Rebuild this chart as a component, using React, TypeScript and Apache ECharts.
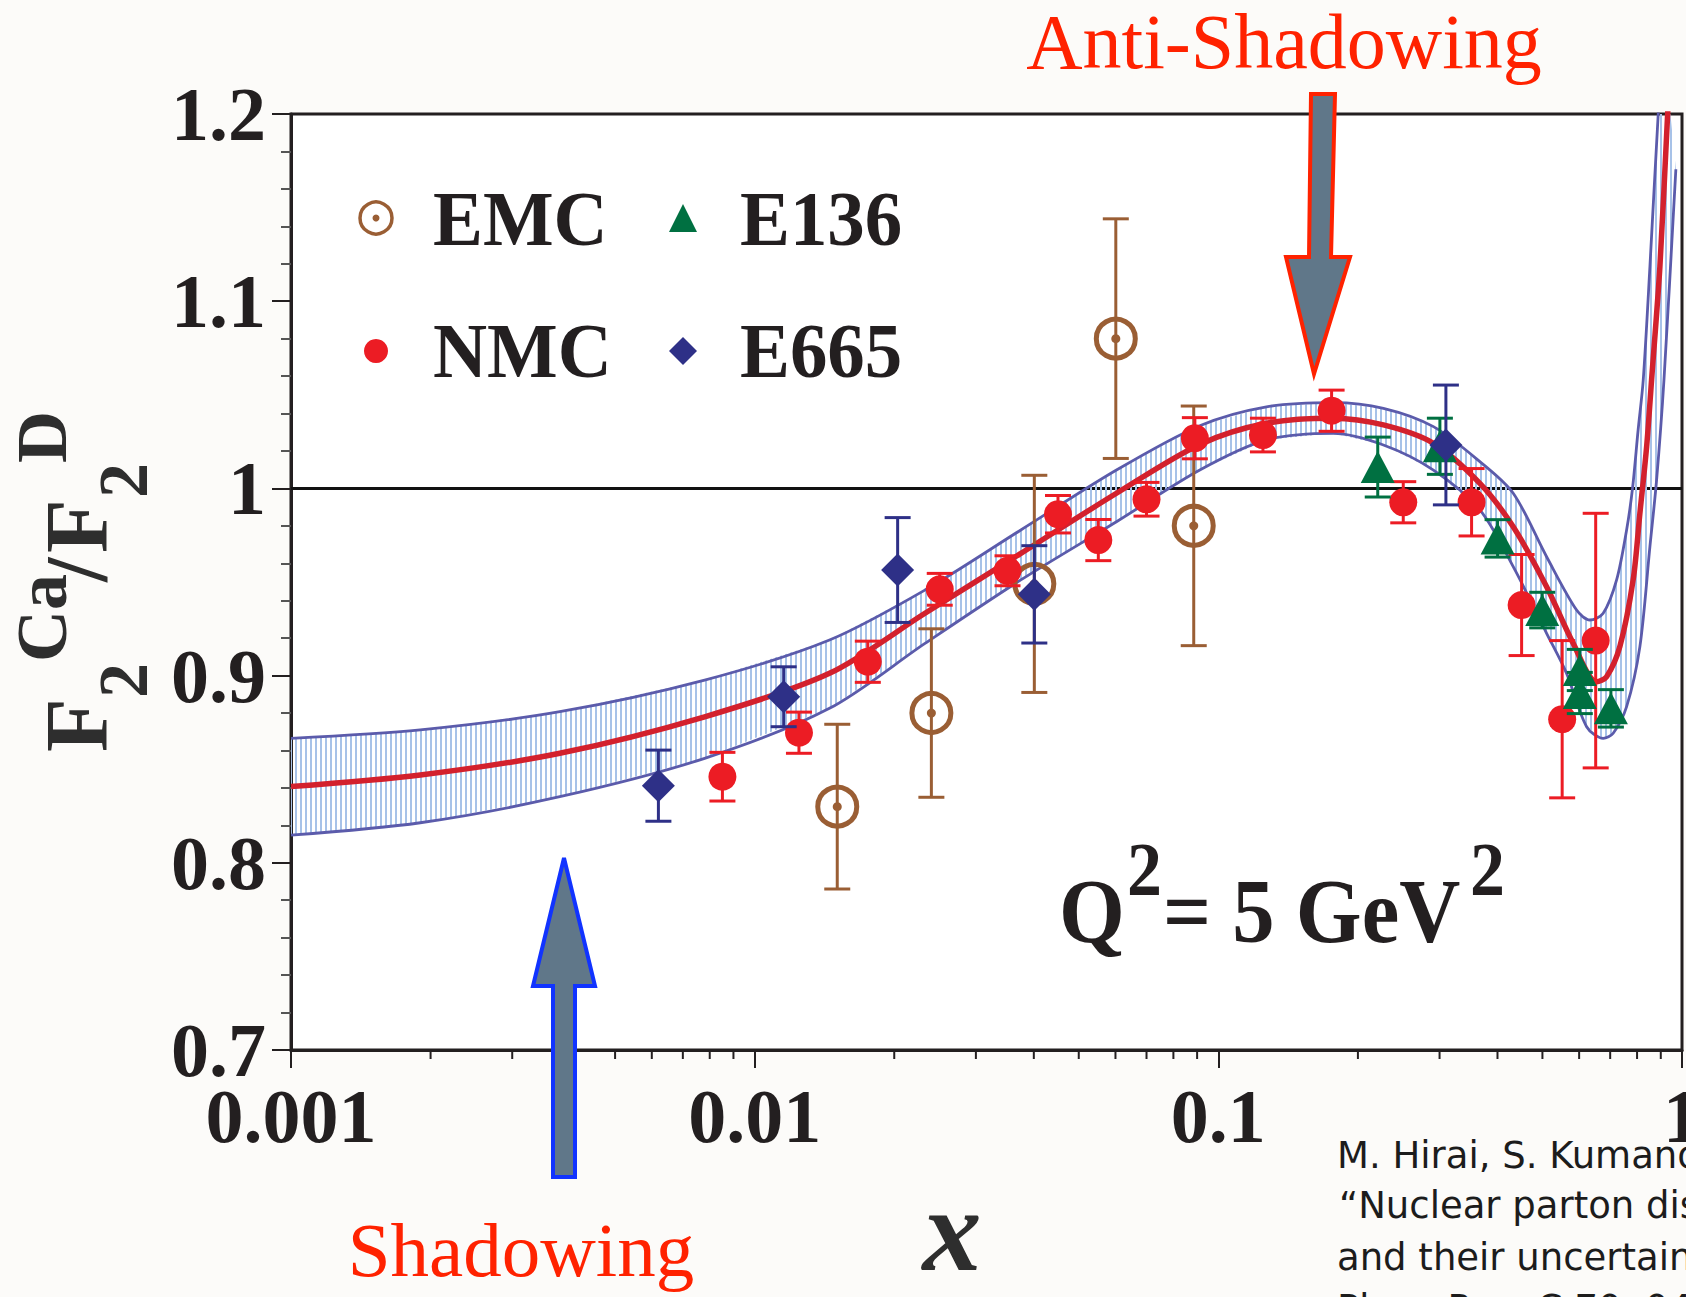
import React, { useEffect, useRef } from "react";
import * as echarts from "echarts";

const SERIF = '"Liberation Serif", "Times New Roman", serif';
const BG = "#fcfbf9";
const INK = "#231f20";

// ---------- data ----------
const xTickLabels = ["0.001", "0.01", "0.1", "1"];
const yTickLabels = ["0.7", "0.8", "0.9", "1", "1.1", "1.2"];
const xMinorTicks = [
  0.002, 0.003, 0.004, 0.005, 0.006, 0.007, 0.008, 0.009,
  0.02, 0.03, 0.04, 0.05, 0.06, 0.07, 0.08, 0.09,
  0.2, 0.3, 0.4, 0.5, 0.6, 0.7, 0.8, 0.9,
];

const emcX = [0.01507, 0.02405, 0.0401, 0.0601, 0.0885];
const emcY = [0.83, 0.88, 0.949, 1.08, 0.98];
const emcErr = [0.044, 0.045, 0.058, 0.064, 0.064];

const nmcX = [0.00852, 0.01246, 0.01754, 0.02507, 0.0351, 0.0451, 0.0551, 0.07, 0.089, 0.1248, 0.1755, 0.2505, 0.3517, 0.4509, 0.5515, 0.6514];
const nmcY = [0.846, 0.8695, 0.9074, 0.9461, 0.956, 0.9862, 0.9724, 0.9942, 1.0268, 1.0285, 1.0415, 0.9926, 0.9926, 0.9377, 0.8767, 0.9187];
const nmcErr = [0.013, 0.011, 0.011, 0.0085, 0.008, 0.01, 0.011, 0.009, 0.011, 0.009, 0.011, 0.011, 0.018, 0.027, 0.042, 0.068];

const e136X = [0.2207, 0.3005, 0.4002, 0.4995, 0.602, 0.602, 0.7025];
const e136Y = [1.0114, 1.0225, 0.9733, 0.935, 0.903, 0.8907, 0.8825];
const e136Err = [0.016, 0.015, 0.01, 0.0095, 0.011, 0.011, 0.01];

const e665X = [0.0062, 0.01155, 0.02034, 0.0401, 0.3096];
const e665Y = [0.8412, 0.8887, 0.9564, 0.9434, 1.0232];
const e665Err = [0.019, 0.016, 0.028, 0.026, 0.032];

const centerX = [0.001, 0.0019, 0.0038, 0.0078, 0.0145, 0.0233, 0.0375, 0.0603, 0.0912, 0.127, 0.177, 0.227, 0.291, 0.3665, 0.4325, 0.5105, 0.5826, 0.6543, 0.6877, 0.7345, 0.7845, 0.8113, 0.8389, 0.8598, 0.896, 0.9312, 0.95];
const centerY = [0.8407, 0.8469, 0.8585, 0.878, 0.9012, 0.9333, 0.9653, 0.9974, 1.0235, 1.0348, 1.0375, 1.0339, 1.0241, 1.0027, 0.9795, 0.9475, 0.9172, 0.8967, 0.8994, 0.9155, 0.9511, 0.9867, 1.0223, 1.0579, 1.1184, 1.2, 1.24];

const upperX = [0.001, 0.0019, 0.0038, 0.0078, 0.0145, 0.0233, 0.0375, 0.0603, 0.0912, 0.127, 0.177, 0.227, 0.291, 0.3665, 0.4325, 0.5105, 0.5925, 0.6329, 0.6762, 0.7227, 0.7595, 0.7821, 0.8042, 0.8249, 0.8527, 0.8886, 0.91];
const upperY = [0.8665, 0.871, 0.8807, 0.8976, 0.919, 0.9457, 0.9778, 1.0098, 1.0335, 1.0436, 1.0458, 1.0428, 1.033, 1.0143, 0.9974, 0.9635, 0.935, 0.9297, 0.9333, 0.9511, 0.9778, 1.0, 1.0312, 1.0579, 1.1184, 1.2, 1.24];

const lowerX = [0.001, 0.0019, 0.0038, 0.0078, 0.0145, 0.0233, 0.0375, 0.0603, 0.0912, 0.127, 0.177, 0.227, 0.291, 0.3665, 0.4325, 0.5105, 0.5637, 0.6227, 0.6762, 0.7106, 0.7595, 0.8113, 0.8527, 0.8815, 0.9143, 0.97];
const lowerY = [0.8148, 0.8214, 0.8353, 0.8558, 0.8825, 0.9172, 0.9511, 0.9822, 1.0098, 1.0259, 1.0294, 1.0232, 1.0098, 0.9885, 0.9582, 0.9226, 0.9012, 0.8727, 0.8665, 0.8692, 0.8834, 0.9155, 0.9689, 1.0045, 1.0579, 1.1705];

// ---------- colours ----------
const C_EMC = "#9a5e34";
const C_NMC = "#ec1c24";
const C_E136 = "#007041";
const C_E665 = "#2e3087";
const C_BAND = "#5b5bab";
const C_CENTER = "#d3212d";

function makeHatch(): string {
  const c = document.createElement("canvas");
  c.width = 5;
  c.height = 10;
  const ctx = c.getContext("2d");
  if (ctx) {
    ctx.fillStyle = "#a7c2e8";
    ctx.fillRect(0, 0, 2, 10);
  }
  return c.toDataURL();
}

const zip = (xs: number[], ys: number[]) => xs.map((x, i) => [x, ys[i]]);
const zip3 = (xs: number[], ys: number[], es: number[]) => xs.map((x, i) => [x, ys[i], es[i]]);

function errSeries(name: string, xs: number[], ys: number[], es: number[], color: string, z: number) {
  return {
    name: name + "-err",
    type: "custom",
    z,
    silent: true,
    encode: { x: 0, y: 1 },
    data: zip3(xs, ys, es),
    renderItem: (params: any, api: any) => {
      const x = api.value(0);
      const y = api.value(1);
      const e = api.value(2);
      const top = api.coord([x, y + e]);
      const bot = api.coord([x, y - e]);
      const hw = 13;
      const st = { stroke: color, lineWidth: 3 };
      return {
        type: "group",
        children: [
          { type: "line", shape: { x1: top[0], y1: top[1], x2: bot[0], y2: bot[1] }, style: st },
          { type: "line", shape: { x1: top[0] - hw, y1: top[1], x2: top[0] + hw, y2: top[1] }, style: st },
          { type: "line", shape: { x1: bot[0] - hw, y1: bot[1], x2: bot[0] + hw, y2: bot[1] }, style: st },
        ],
      };
    },
  };
}

function txt(text: string, x: number, y: number, font: string, fill: string, align = "left", extra: any = {}) {
  return {
    type: "text",
    x,
    y,
    z: 100,
    silent: true,
    ...extra,
    style: { text, font, fill, align, verticalAlign: "middle", textAlign: align, textVerticalAlign: "middle" },
  };
}

function buildOption(): any {
  const hatch = makeHatch();
  const titleFill = "#2e2e2e";
  const mainF = `bold 88px ${SERIF}`;
  const subF = `bold 70px ${SERIF}`;
  const supF = `bold 72px ${SERIF}`;
  const citeF = `37px "DejaVu Sans", sans-serif`;

  const graphic: any[] = [
    // legend
    { type: "circle", z: 100, shape: { cx: 376, cy: 218, r: 16 }, style: { fill: "none", stroke: C_EMC, lineWidth: 3.5 } },
    { type: "circle", z: 100, shape: { cx: 376, cy: 218, r: 3.5 }, style: { fill: C_EMC } },
    txt("EMC", 433, 219, `bold 78px ${SERIF}`, INK, "left", { scaleX: 0.96 }),
    { type: "polygon", z: 100, shape: { points: [[683, 204], [697, 232], [669, 232]] }, style: { fill: C_E136 } },
    txt("E136", 740, 219, `bold 78px ${SERIF}`, INK, "left", { scaleX: 0.96 }),
    { type: "circle", z: 100, shape: { cx: 376, cy: 351, r: 12 }, style: { fill: C_NMC } },
    txt("NMC", 433, 351, `bold 78px ${SERIF}`, INK, "left", { scaleX: 0.96 }),
    { type: "polygon", z: 100, shape: { points: [[683, 337], [697, 351], [683, 365], [669, 351]] }, style: { fill: C_E665 } },
    txt("E665", 740, 351, `bold 78px ${SERIF}`, INK, "left", { scaleX: 0.96 }),

    // Q^2 = 5 GeV^2
    txt("Q", 1059, 911, `bold 92px ${SERIF}`, INK, "left", { scaleX: 0.92 }),
    txt("2", 1127, 870, `bold 76px ${SERIF}`, INK, "left", { scaleX: 0.92 }),
    txt("= 5 GeV", 1163, 911, `bold 92px ${SERIF}`, INK, "left", { scaleX: 0.92 }),
    txt("2", 1470, 870, `bold 76px ${SERIF}`, INK, "left", { scaleX: 0.92 }),

    // annotations
    txt("Anti-Shadowing", 1284, 41, `78px ${SERIF}`, "#ff2200", "center"),
    txt("Shadowing", 521, 1250, `77px ${SERIF}`, "#ff2200", "center"),
    {
      type: "polygon",
      z: 101,
      shape: { points: [[1311, 94], [1335, 94], [1331, 257], [1350, 257], [1314, 374], [1286, 257], [1309, 257]] },
      style: { fill: "#607789", stroke: "#ff2200", lineWidth: 4, lineJoin: "miter" },
    },
    {
      type: "polygon",
      z: 101,
      shape: { points: [[564, 858], [595, 986], [575, 986], [575, 1177], [553, 1177], [553, 986], [533, 986]] },
      style: { fill: "#607789", stroke: "#1133ff", lineWidth: 4, lineJoin: "miter" },
    },

    // x axis title
    txt("x", 952, 1230, `italic bold 118px ${SERIF}`, titleFill, "center"),

    // y axis title (rotated)
    {
      type: "group",
      x: 105,
      y: 752,
      rotation: Math.PI / 2,
      z: 100,
      children: [
        txt("F", 0, -29, mainF, titleFill),
        txt("2", 54, 18, subF, titleFill),
        txt("Ca", 90, -63, supF, titleFill),
        txt("/", 170, -29, mainF, titleFill),
        txt("F", 199, -29, mainF, titleFill),
        txt("2", 254, 18, subF, titleFill),
        txt("D", 289, -63, supF, titleFill),
      ],
    },

    // citation
    txt("M. Hirai, S. Kumano, T.-H. Nagai,", 1337, 1155, citeF, "#1c1c1c"),
    txt("\u201CNuclear parton distribution functions", 1339, 1205, citeF, "#1c1c1c"),
    txt("and their uncertainties,\u201D", 1337, 1257, citeF, "#1c1c1c"),
    txt("Phys. Rev. C 70, 044905 (2004)", 1337, 1308, citeF, "#1c1c1c"),
  ];

  const labelStyle = { fontFamily: SERIF, fontWeight: "bold", fontSize: 76, color: INK };

  return {
    animation: false,
    backgroundColor: BG,
    grid: {
      left: 291,
      top: 114,
      width: 1391,
      height: 936,
      containLabel: false,
      outerBoundsMode: "none",
      show: true,
      backgroundColor: "#ffffff",
      borderColor: INK,
      borderWidth: 3,
    },
    xAxis: {
      type: "log",
      logBase: 10,
      min: 0.001,
      max: 1,
      axisLine: { show: true, onZero: false, lineStyle: { color: INK, width: 3 } },
      axisTick: { show: true, inside: false, length: 18, lineStyle: { color: INK, width: 2 } },
      minorTick: { show: false },
      splitLine: { show: false },
      axisLabel: {
        ...labelStyle,
        margin: 28,
        showMinLabel: true,
        showMaxLabel: true,
        hideOverlap: false,
        formatter: (v: number) => {
          const idx = Math.round(Math.log10(v)) + 3;
          return xTickLabels[idx] ?? String(v);
        },
      },
    },
    yAxis: {
      type: "value",
      min: 0.7,
      max: 1.2,
      interval: 0.1,
      axisLine: { show: true, lineStyle: { color: INK, width: 3 } },
      axisTick: { show: true, inside: false, length: 19, lineStyle: { color: INK, width: 2 } },
      minorTick: { show: true, splitNumber: 5, length: 10, lineStyle: { color: "#555", width: 2 } },
      splitLine: { show: false },
      axisLabel: {
        ...labelStyle,
        margin: 25,
        formatter: (v: number) => {
          const idx = Math.round((v - 0.7) * 10);
          return yTickLabels[idx] ?? String(v);
        },
      },
    },
    graphic,
    series: [
      {
        name: "unity",
        type: "line",
        z: 1,
        silent: true,
        symbol: "none",
        data: [[0.001, 1], [1, 1]],
        lineStyle: { color: "#111111", width: 3 },
      },
      {
        name: "band",
        type: "custom",
        z: 2,
        clip: true,
        silent: true,
        encode: { x: 0, y: 1 },
        data: [[0.01, 1]],
        renderItem: (params: any, api: any) => {
          const pts: number[][] = [];
          for (let i = 0; i < upperX.length; i++) pts.push(api.coord([upperX[i], upperY[i]]));
          for (let i = lowerX.length - 1; i >= 0; i--) pts.push(api.coord([lowerX[i], lowerY[i]]));
          return {
            type: "polygon",
            shape: { points: pts },
            style: { fill: { image: hatch, repeat: "repeat", imageWidth: 5, imageHeight: 10 }, stroke: "none" },
          };
        },
      },
      {
        name: "upper",
        type: "line",
        z: 3,
        silent: true,
        symbol: "none",
        smooth: 0.3,
        data: zip(upperX, upperY),
        lineStyle: { color: C_BAND, width: 2.8 },
      },
      {
        name: "lower",
        type: "line",
        z: 3,
        silent: true,
        symbol: "none",
        smooth: 0.3,
        data: zip(lowerX, lowerY),
        lineStyle: { color: C_BAND, width: 2.8 },
      },
      {
        name: "center",
        type: "line",
        z: 4,
        silent: true,
        symbol: "none",
        smooth: 0.3,
        data: zip(centerX, centerY),
        lineStyle: { color: C_CENTER, width: 5.5 },
      },
      {
        name: "minorTicks",
        type: "custom",
        z: 5,
        silent: true,
        clip: false,
        encode: { x: 0, y: 1 },
        data: xMinorTicks.map((x) => [x, 0.7]),
        renderItem: (params: any, api: any) => {
          const p = api.coord([api.value(0), api.value(1)]);
          return {
            type: "line",
            shape: { x1: p[0], y1: p[1], x2: p[0], y2: p[1] + 9 },
            style: { stroke: INK, lineWidth: 2 },
          };
        },
      },
      errSeries("EMC", emcX, emcY, emcErr, C_EMC, 6),
      {
        name: "EMC",
        type: "scatter",
        z: 7,
        silent: true,
        symbol: "circle",
        symbolSize: 39,
        data: zip(emcX, emcY),
        itemStyle: { color: "rgba(255,255,255,0)", borderColor: C_EMC, borderWidth: 5, opacity: 1 },
      },
      {
        name: "EMC-dot",
        type: "scatter",
        z: 7,
        silent: true,
        symbol: "circle",
        symbolSize: 9,
        data: zip(emcX, emcY),
        itemStyle: { color: C_EMC, opacity: 1 },
      },
      errSeries("NMC", nmcX, nmcY, nmcErr, C_NMC, 8),
      {
        name: "NMC",
        type: "scatter",
        z: 9,
        silent: true,
        symbol: "circle",
        symbolSize: 28,
        data: zip(nmcX, nmcY),
        itemStyle: { color: C_NMC, opacity: 1 },
      },
      errSeries("E136", e136X, e136Y, e136Err, C_E136, 10),
      {
        name: "E136",
        type: "scatter",
        z: 11,
        silent: true,
        symbol: "triangle",
        symbolSize: [34, 32],
        data: zip(e136X, e136Y),
        itemStyle: { color: C_E136, opacity: 1 },
      },
      errSeries("E665", e665X, e665Y, e665Err, C_E665, 12),
      {
        name: "E665",
        type: "scatter",
        z: 13,
        silent: true,
        symbol: "diamond",
        symbolSize: [33, 33],
        data: zip(e665X, e665Y),
        itemStyle: { color: C_E665, opacity: 1 },
      },
    ],
  };
}

export default function App() {
  const ref = useRef<HTMLDivElement>(null);
  useEffect(() => {
    document.body.style.margin = "0";
    document.body.style.overflow = "hidden";
    document.body.style.background = BG;
    const chart = echarts.init(ref.current as HTMLDivElement, null, { renderer: "svg" });
    chart.setOption(buildOption());
    return () => chart.dispose();
  }, []);
  return (
    <div
      ref={ref}
      style={{ position: "fixed", left: 0, top: 0, width: 1686, height: 1297 }}
    />
  );
}
